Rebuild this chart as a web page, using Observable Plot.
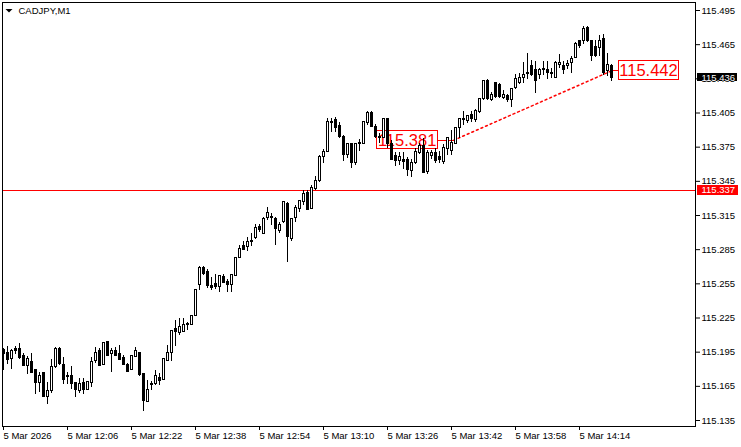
<!DOCTYPE html>
<html><head><meta charset="utf-8">
<script src="https://cdn.jsdelivr.net/npm/d3@7"></script>
<script src="https://cdn.jsdelivr.net/npm/@observablehq/plot@0.6"></script>
<style>
html,body{margin:0;padding:0;background:#fff;}
#chart{width:741px;height:447px;overflow:hidden;}
</style></head><body><div id="chart"></div>
<script>
const symbol = "CADJPY,M1";
const open = [
115.197,115.194,115.189,115.198,115.198,115.192,115.183,115.186,115.179,115.168,
115.177,115.156,115.161,115.182,115.198,115.184,115.174,115.174,115.168,115.161,
115.168,115.162,115.168,115.187,115.196,115.184,115.204,115.193,115.196,115.193,
115.190,115.184,115.179,115.191,115.194,115.176,115.151,115.167,115.167,115.172,
115.171,115.187,115.194,115.215,115.212,115.213,115.220,115.219,115.227,115.254,
115.269,115.265,115.253,115.255,115.252,115.261,115.257,115.254,115.262,115.278,
115.288,115.287,115.292,115.295,115.305,115.299,115.313,115.314,115.312,115.301,
115.309,115.325,115.294,115.313,115.321,115.327,115.335,115.321,115.338,115.345,
115.366,115.371,115.396,115.399,115.394,115.384,115.368,115.378,115.361,115.378,
115.378,115.396,115.405,115.393,115.384,115.383,115.400,115.378,115.367,115.363,
115.364,115.364,115.354,115.361,115.370,115.376,115.353,115.367,115.370,115.366,
115.362,115.373,115.372,115.378,115.392,115.399,115.398,115.403,115.399,115.406,
115.417,115.433,115.416,115.431,115.430,115.418,115.420,115.416,115.427,115.431,
115.436,115.440,115.446,115.443,115.438,115.443,115.443,115.439,115.436,115.447,
115.446,115.446,115.449,115.453,115.468,115.468,115.480,115.468,115.463,115.462,
115.470,115.442,115.446];
const high = [
115.198,115.200,115.197,115.200,115.203,115.194,115.191,115.194,115.180,115.177,
115.177,115.168,115.189,115.199,115.199,115.190,115.177,115.182,115.168,115.172,
115.172,115.169,115.190,115.199,115.198,115.203,115.204,115.198,115.199,115.201,
115.192,115.185,115.192,115.199,115.195,115.176,115.170,115.169,115.179,115.176,
115.189,115.201,115.214,115.223,115.225,115.225,115.221,115.227,115.250,115.270,
115.270,115.268,115.261,115.263,115.262,115.263,115.259,115.263,115.278,115.289,
115.292,115.296,115.299,115.307,115.307,115.313,115.322,115.317,115.313,115.309,
115.327,115.326,115.312,115.324,115.328,115.337,115.337,115.341,115.349,115.368,
115.373,115.400,115.400,115.401,115.397,115.385,115.378,115.378,115.378,115.382,
115.397,115.406,115.406,115.395,115.387,115.400,115.400,115.381,115.370,115.370,
115.370,115.366,115.364,115.374,115.378,115.383,115.372,115.372,115.374,115.371,
115.377,115.383,115.390,115.392,115.400,115.406,115.403,115.406,115.408,115.418,
115.433,115.434,115.423,115.432,115.431,115.425,115.421,115.426,115.439,115.440,
115.449,115.457,115.451,115.450,115.444,115.450,115.450,115.444,115.450,115.456,
115.450,115.451,115.455,115.467,115.469,115.481,115.481,115.469,115.469,115.473,
115.474,115.457,115.448];
const low = [
115.179,115.184,115.180,115.193,115.189,115.182,115.175,115.177,115.158,115.160,
115.155,115.149,115.159,115.181,115.183,115.167,115.167,115.162,115.155,115.159,
115.158,115.161,115.164,115.185,115.182,115.183,115.191,115.177,115.191,115.188,
115.184,115.177,115.179,115.191,115.174,115.143,115.151,115.161,115.166,115.166,
115.170,115.187,115.187,115.200,115.210,115.212,115.214,115.219,115.227,115.249,
115.262,115.251,115.249,115.250,115.247,115.255,115.247,115.247,115.262,115.278,
115.284,115.283,115.288,115.294,115.300,115.299,115.311,115.306,115.289,115.299,
115.308,115.274,115.292,115.309,115.318,115.324,115.320,115.320,115.337,115.344,
115.361,115.371,115.388,115.388,115.383,115.362,115.365,115.356,115.359,115.371,
115.378,115.394,115.392,115.383,115.378,115.383,115.374,115.364,115.358,115.359,
115.355,115.349,115.348,115.360,115.369,115.352,115.351,115.364,115.361,115.361,
115.360,115.368,115.368,115.378,115.383,115.394,115.396,115.397,115.397,115.405,
115.416,115.416,115.415,115.418,115.418,115.417,115.414,115.410,115.426,115.430,
115.431,115.434,115.437,115.422,115.434,115.438,115.434,115.435,115.435,115.444,
115.439,115.443,115.440,115.453,115.462,115.465,115.467,115.450,115.454,115.455,
115.438,115.437,115.433];
const close = [
115.193,115.188,115.196,115.196,115.190,115.183,115.189,115.177,115.168,115.174,
115.156,115.161,115.182,115.198,115.185,115.171,115.173,115.167,115.162,115.167,
115.162,115.169,115.186,115.194,115.183,115.203,115.192,115.196,115.192,115.188,
115.184,115.178,115.192,115.196,115.175,115.152,115.162,115.166,115.174,115.170,
115.189,115.194,115.214,115.213,115.217,115.219,115.219,115.227,115.250,115.269,
115.264,115.253,115.251,115.252,115.262,115.256,115.254,115.263,115.278,115.286,
115.285,115.292,115.293,115.304,115.302,115.312,115.317,115.313,115.303,115.307,
115.327,115.296,115.312,115.322,115.328,115.334,115.320,115.339,115.345,115.366,
115.371,115.397,115.397,115.392,115.384,115.368,115.378,115.361,115.378,115.379,
115.397,115.405,115.393,115.384,115.383,115.400,115.378,115.364,115.363,115.366,
115.362,115.355,115.361,115.371,115.376,115.352,115.370,115.370,115.363,115.364,
115.374,115.383,115.379,115.392,115.400,115.400,115.402,115.400,115.407,115.417,
115.433,115.417,115.421,115.419,115.419,115.421,115.416,115.426,115.435,115.436,
115.438,115.439,115.438,115.433,115.443,115.444,115.440,115.440,115.449,115.449,
115.443,115.448,115.452,115.466,115.464,115.479,115.468,115.455,115.455,115.468,
115.440,115.447,115.436];

const xTickIndex = [0,16,32,48,64,80,96,112,128,144];
const xTickLabels = ["5 Mar 2026","5 Mar 12:06","5 Mar 12:22","5 Mar 12:38","5 Mar 12:54","5 Mar 13:10","5 Mar 13:26","5 Mar 13:42","5 Mar 13:58","5 Mar 14:14"];
const yTicks = [115.135,115.165,115.195,115.225,115.255,115.285,115.315,115.345,115.375,115.405,115.435,115.465,115.495];
const hLinePrice = 115.337;
const bidPrice = 115.436;
const trendIndex = [112.5, 152];
const trendPrice = [115.381, 115.442];

const candles = open.map((o, i) => ({i, open: o, high: high[i], low: low[i], close: close[i], up: close[i] >= o}));
const trend = trendIndex.map((x, k) => ({i: x, p: trendPrice[k]}));
const font = "Liberation Sans, Arial, sans-serif";

const chart = Plot.plot({
  width: 741, height: 447,
  marginLeft: 2, marginRight: 46, marginTop: 2, marginBottom: 21,
  style: {fontFamily: font, fontSize: "9.5px", background: "#fff", color: "#000"},
  x: {domain: [0, 152], range: [3, 611]},
  y: {domain: [115.135, 115.495], range: [420, 10]},
  marks: [
    Plot.axisY({anchor: "right", ticks: yTicks, tickFormat: d => d.toFixed(3), tickSize: 4, tickPadding: 2, label: null}),
    Plot.axisX({ticks: xTickIndex, tickFormat: v => xTickLabels[xTickIndex.indexOf(v)], tickSize: 4, tickPadding: 2, textAnchor: "start", label: null}),
    Plot.ruleY([hLinePrice], {stroke: "#ff0000", shapeRendering: "crispEdges"}),
    // price labels on axis
    Plot.rect([hLinePrice], {x1: 173.5, x2: 183.75, y1: d => d - 0.0044, y2: d => d + 0.0044, fill: "#ff0000", shapeRendering: "crispEdges"}),
    Plot.text([hLinePrice], {frameAnchor: "right", y: d => d, dx: 6, textAnchor: "start", text: d => d.toFixed(3), fill: "#fff", fontSize: 9.5}),
    Plot.rect([bidPrice], {x1: 173.5, x2: 183.5, y1: d => d - 0.0037, y2: d => d + 0.0037, fill: "#000", shapeRendering: "crispEdges"}),
    Plot.text([bidPrice], {frameAnchor: "right", y: d => d, dx: 6, textAnchor: "start", text: d => d.toFixed(3), fill: "#fff", fontSize: 9.5}),
    // trend line and its labels
    Plot.line(trend, {x: "i", y: "p", stroke: "#ff0000", strokeDasharray: "2,3"}),
    Plot.ruleY([trend[0]], {y: "p", x1: 108.5, x2: d => d.i, stroke: "#ff0000", shapeRendering: "crispEdges"}),
    Plot.ruleY([trend[1]], {y: "p", x1: d => d.i, x2: 153.75, stroke: "#ff0000", shapeRendering: "crispEdges"}),
    Plot.rect([trend[0]], {x1: 93.25, x2: 108.5, y1: d => d.p - 0.0079, y2: d => d.p + 0.0079, fill: "none", stroke: "#ff0000", shapeRendering: "crispEdges"}),
    Plot.text([trend[0]], {x: 100.9, y: "p", text: d => d.p.toFixed(3), fill: "#ff0000", fontSize: 16.5, fontFamily: font}),
    Plot.rect([trend[1]], {x1: 153.75, x2: 168.75, y1: d => d.p - 0.0084, y2: d => d.p + 0.0084, fill: "none", stroke: "#ff0000", shapeRendering: "crispEdges"}),
    Plot.text([trend[1]], {x: 161.25, y: "p", text: d => d.p.toFixed(3), fill: "#ff0000", fontSize: 16.5, fontFamily: font}),
    // candles
    Plot.ruleX(candles, {x: "i", y1: "low", y2: "high", stroke: "#000", strokeWidth: 1, shapeRendering: "crispEdges"}),
    Plot.rect(candles, {x1: d => d.i - 0.25, x2: d => d.i + 0.25, y1: "open", y2: "close", fill: d => d.up ? "#fff" : "#000", stroke: "#000", strokeWidth: 1, shapeRendering: "crispEdges"}),
    Plot.frame({stroke: "#000", shapeRendering: "crispEdges"}),
    Plot.text([symbol], {frameAnchor: "top-left", dx: 16, dy: 5, textAnchor: "start", lineAnchor: "top", fontSize: 9.5, fill: "#000"})
  ]
});
document.getElementById("chart").appendChild(chart);
// small dropdown triangle next to the symbol
d3.select(chart).append("path").attr("d", "M5.5,9L12.5,9L9,12.5Z").attr("fill", "#000");
</script>
</body></html>
